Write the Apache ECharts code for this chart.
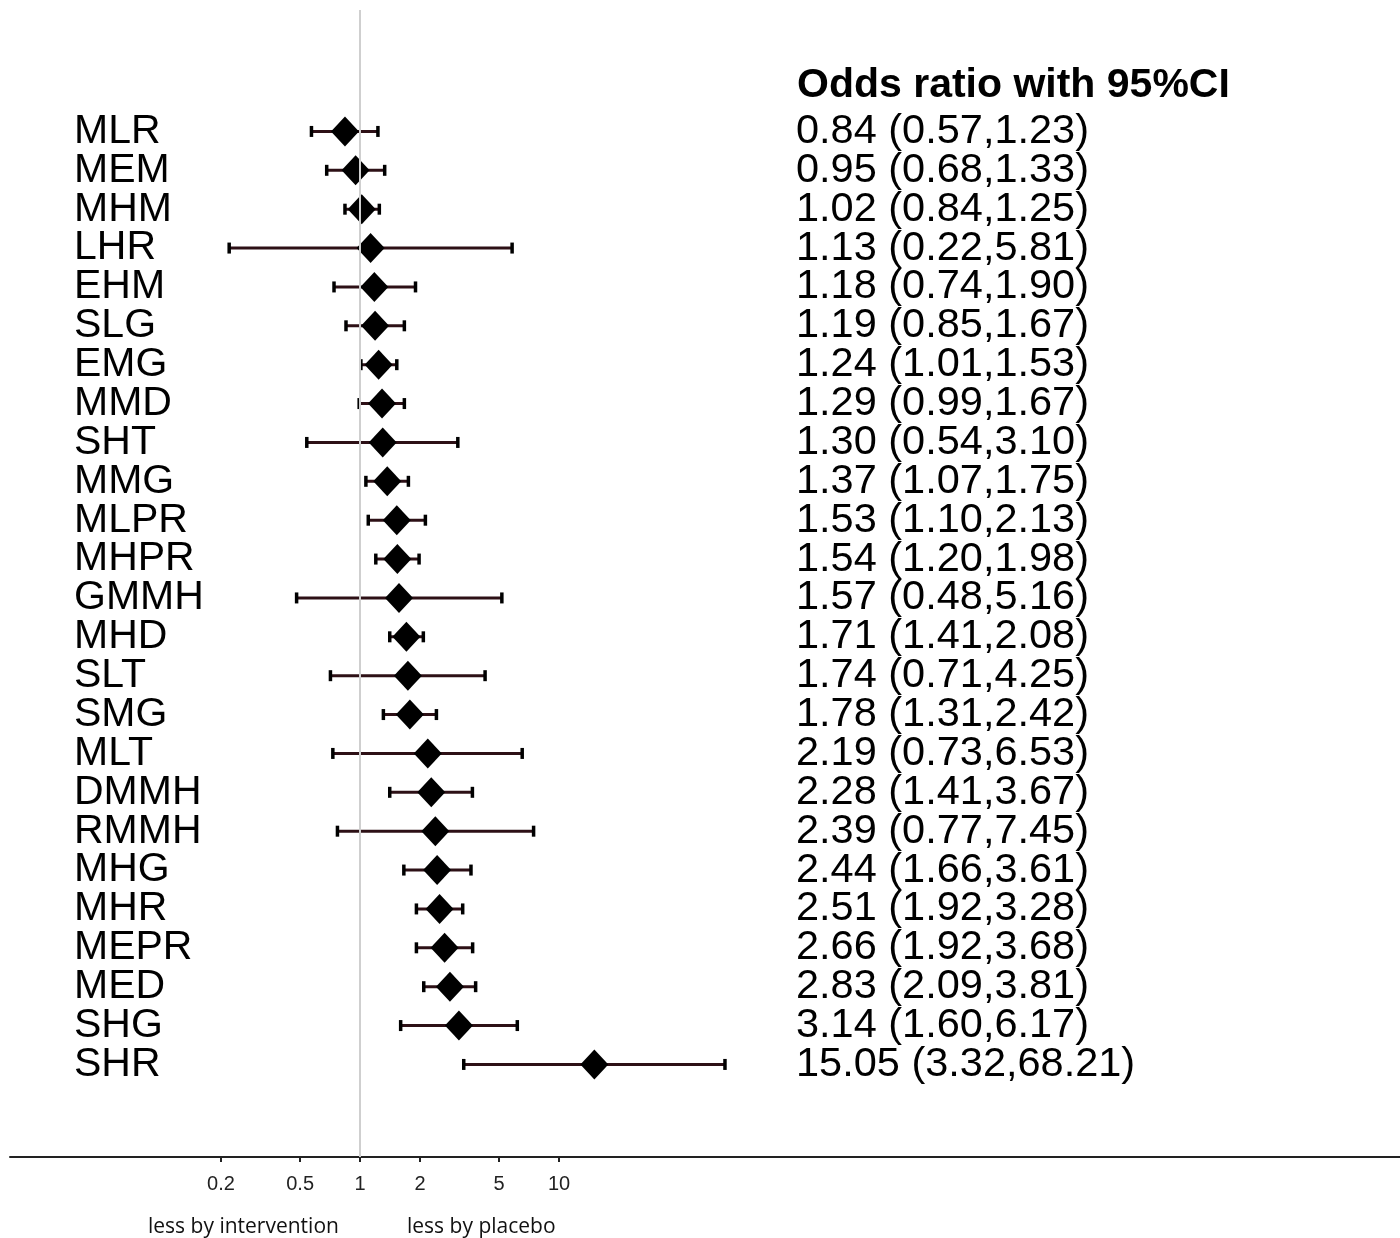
<!DOCTYPE html>
<html>
<head>
<meta charset="utf-8">
<script src="https://cdn.jsdelivr.net/npm/echarts@6/dist/echarts.min.js"></script>
<style>
  html, body { margin: 0; padding: 0; background: #fff; }
  #chart { width: 1400px; height: 1238px; }
</style>
</head>
<body>
<div id="chart"></div>
<script>
// Outcomes, odds ratios and 95% confidence limits
const outcomes = ['MLR', 'MEM', 'MHM', 'LHR', 'EHM', 'SLG', 'EMG', 'MMD', 'SHT', 'MMG', 'MLPR', 'MHPR', 'GMMH',
  'MHD', 'SLT', 'SMG', 'MLT', 'DMMH', 'RMMH', 'MHG', 'MHR', 'MEPR', 'MED', 'SHG', 'SHR'];
const oddsRatio = [0.84, 0.95, 1.02, 1.13, 1.18, 1.19, 1.24, 1.29, 1.30, 1.37, 1.53, 1.54, 1.57,
  1.71, 1.74, 1.78, 2.19, 2.28, 2.39, 2.44, 2.51, 2.66, 2.83, 3.14, 15.05];
const lowerCI = [0.57, 0.68, 0.84, 0.22, 0.74, 0.85, 1.01, 0.99, 0.54, 1.07, 1.10, 1.20, 0.48,
  1.41, 0.71, 1.31, 0.73, 1.41, 0.77, 1.66, 1.92, 1.92, 2.09, 1.60, 3.32];
const upperCI = [1.23, 1.33, 1.25, 5.81, 1.90, 1.67, 1.53, 1.67, 3.10, 1.75, 2.13, 1.98, 5.16,
  2.08, 4.25, 2.42, 6.53, 3.67, 7.45, 3.61, 3.28, 3.68, 3.81, 6.17, 68.21];
const tickValues = [0.2, 0.5, 1, 2, 5, 10];

// Log x range shared by the plot grid and the axis grid
const X_MIN = Math.pow(10, -1.759);
const X_MAX = Math.pow(10, 5.226);

const fmt = v => v.toFixed(2);
const ciText = outcomes.map((_, i) => `${fmt(oddsRatio[i])} (${fmt(lowerCI[i])},${fmt(upperCI[i])})`);

const chart = echarts.init(document.getElementById('chart'), null, { renderer: 'canvas' });

const ROW_H = 38.875;
const PLOT_TOP = 112;
const SANS = '"Liberation Sans", Arial, sans-serif';

const option = {
  animation: false,
  backgroundColor: '#ffffff',
  textStyle: { fontFamily: SANS },
  title: {
    text: 'Odds ratio with 95%CI',
    left: 792,
    top: 60,
    textStyle: { fontSize: 41, fontWeight: 'bold', color: '#000', fontFamily: SANS }
  },
  grid: [
    { left: 10, right: 0, top: PLOT_TOP, height: ROW_H * outcomes.length },
    { left: 10, right: 0, top: 10, bottom: 81 }
  ],
  xAxis: [
    {
      gridIndex: 0, type: 'log', logBase: 10, min: X_MIN, max: X_MAX,
      axisLine: { show: false }, axisTick: { show: false }, axisLabel: { show: false }, splitLine: { show: false }
    },
    {
      gridIndex: 1, type: 'log', logBase: 10, min: X_MIN, max: X_MAX,
      axisLine: { show: true, onZero: false, lineStyle: { color: '#222', width: 2 } },
      axisTick: { show: true, customValues: tickValues, length: 5, lineStyle: { color: '#222', width: 2 } },
      axisLabel: {
        show: true, customValues: tickValues, margin: 17,
        fontSize: 20, color: '#222', fontFamily: SANS,
        formatter: v => String(+(+v).toPrecision(3))
      },
      splitLine: { show: false }
    }
  ],
  yAxis: [
    {
      gridIndex: 0, type: 'category', inverse: true, data: outcomes,
      axisLine: { show: false }, axisTick: { show: false }, splitLine: { show: false },
      axisLabel: { inside: true, margin: 64, align: 'left', fontSize: 41, color: '#000', interval: 0,
        padding: [4, 0, 0, 0] }
    },
    {
      gridIndex: 0, type: 'category', inverse: true, data: outcomes, position: 'left',
      axisLine: { show: false }, axisTick: { show: false }, splitLine: { show: false },
      axisLabel: {
        inside: true, margin: 786, align: 'left', fontSize: 41.5, color: '#000', interval: 0,
        padding: [4, 0, 0, 0],
        formatter: (v, i) => ciText[i]
      }
    },
    {
      gridIndex: 1, type: 'value', min: 0, max: 1, show: false
    }
  ],
  series: [
    {
      // reference line at odds ratio 1
      type: 'scatter', xAxisIndex: 1, yAxisIndex: 2, z: 1,
      data: [[1, 0.5]], symbolSize: 0, silent: true,
      markLine: {
        silent: true, symbol: ['none', 'none'], label: { show: false },
        lineStyle: { color: '#cfcfcf', width: 2, type: 'solid' },
        data: [{ xAxis: 1 }]
      }
    },
    {
      // confidence interval whiskers
      type: 'custom', xAxisIndex: 0, yAxisIndex: 0, z: 3,
      data: outcomes.map((_, i) => [lowerCI[i], upperCI[i], i]),
      encode: { x: [0, 1], y: 2 },
      renderItem: (params, api) => {
        const y = api.value(2);
        const a = api.coord([api.value(0), y]);
        const b = api.coord([api.value(1), y]);
        const capH = 5.5;
        return {
          type: 'group',
          children: [
            { type: 'line', shape: { x1: a[0], y1: a[1], x2: b[0], y2: b[1] },
              style: { stroke: '#2d1016', lineWidth: 3 } },
            { type: 'line', shape: { x1: a[0], y1: a[1] - capH, x2: a[0], y2: a[1] + capH },
              style: { stroke: '#000', lineWidth: 3.5 } },
            { type: 'line', shape: { x1: b[0], y1: b[1] - capH, x2: b[0], y2: b[1] + capH },
              style: { stroke: '#000', lineWidth: 3.5 } }
          ]
        };
      }
    },
    {
      // point estimates
      type: 'scatter', xAxisIndex: 0, yAxisIndex: 0, z: 4,
      symbol: 'diamond', symbolSize: [28, 30],
      itemStyle: { color: '#000', opacity: 1 },
      data: outcomes.map((_, i) => [oddsRatio[i], i])
    }
  ],
  graphic: [
    { type: 'text', left: 148, top: 1217,
      style: { text: 'less by intervention', fontSize: 21, fill: '#111', fontFamily: '"Open Sans", "Liberation Sans", sans-serif' } },
    { type: 'text', left: 407, top: 1217,
      style: { text: 'less by placebo', fontSize: 21, fill: '#111', fontFamily: '"Open Sans", "Liberation Sans", sans-serif' } }
  ]
};

chart.setOption(option);
</script>
</body>
</html>
